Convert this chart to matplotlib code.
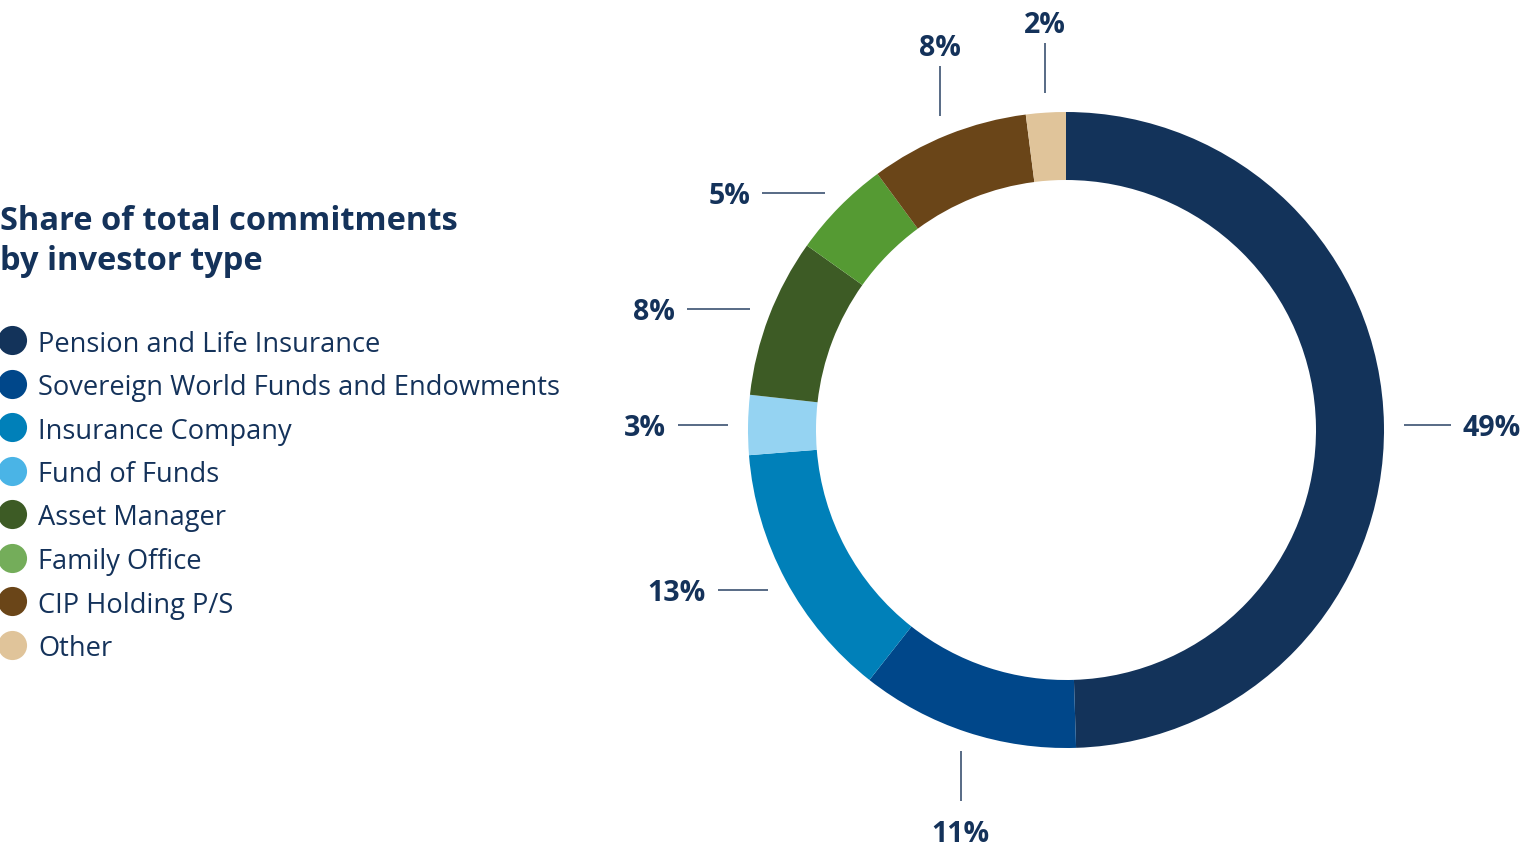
import numpy as np
import matplotlib

matplotlib.use("agg")
import matplotlib.pyplot as plt

categories = [
    "Pension and Life Insurance",
    "Sovereign World Funds and Endowments",
    "Insurance Company",
    "Fund of Funds",
    "Asset Manager",
    "Family Office",
    "CIP Holding P/S",
    "Other",
]
shares = [49, 11, 13, 3, 8, 5, 8, 2]

ring_colors = ["#13335a", "#00478a", "#0080b9", "#95d3f2", "#3d5b25", "#559a33", "#6a4518", "#e0c49a"]
legend_colors = ["#13335a", "#00478a", "#0080b9", "#4ab4e6", "#3d5b25", "#74ad5a", "#6a4518", "#e0c49a"]
leader_len = [47, 50, 50, 50, 63, 63, 50, 50]

NAVY = "#14325a"
W, H = 1528, 860
CX, CY, R, RING = 1066, 430, 318, 68

plt.rcParams["font.family"] = ["Open Sans", "DejaVu Sans"]

fig = plt.figure(figsize=(W / 100, H / 100), dpi=100)
ax = fig.add_axes([0, 0, 1, 1])

wedges, _ = ax.pie(
    shares,
    colors=ring_colors,
    startangle=-90,
    counterclock=True,
    radius=R,
    center=(CX, CY),
    wedgeprops=dict(width=RING, linewidth=0),
)

# pixel coordinates, y pointing down
ax.set_xlim(0, W)
ax.set_ylim(H, 0)
ax.set_aspect("equal")
ax.axis("off")

# leader lines and value labels
for w, v, ln in zip(wedges, shares, leader_len):
    mid = np.deg2rad((w.theta1 + w.theta2) / 2)
    c, s = np.cos(mid), np.sin(mid)
    x0, y0 = CX + 338 * c, CY + 338 * s
    if abs(c) >= abs(s):
        d = np.sign(c)
        x1, y1 = x0 + d * ln, y0
        tx, ty = x1 + d * 12, y1
        ha = "left" if d > 0 else "right"
    else:
        d = np.sign(s)
        x1, y1 = x0, y0 + d * ln
        tx, ty = x1, y1 + (30 if d > 0 else -21)
        ha = "center"
    ax.plot([x0, x1], [y0, y1], color="#4a5f7c", lw=1.3, solid_capstyle="butt")
    ax.text(tx, ty, f"{v}%", color=NAVY, fontsize=20.5, fontweight="bold",
            ha=ha, va="center_baseline")

# title
ax.text(0, 218, "Share of total commitments", color=NAVY, fontsize=23.5,
        fontweight="bold", ha="left", va="center_baseline")
ax.text(0, 258, "by investor type", color=NAVY, fontsize=23.5,
        fontweight="bold", ha="left", va="center_baseline")

# legend
for i, (name, col) in enumerate(zip(categories, legend_colors)):
    y = 340 + i * 43.5
    ax.scatter([12], [y], s=440, color=col, linewidths=0)
    ax.text(38, y + 1, name, color=NAVY, fontsize=19.6, ha="left",
            va="center_baseline")

fig.savefig("out.png", dpi=100)
